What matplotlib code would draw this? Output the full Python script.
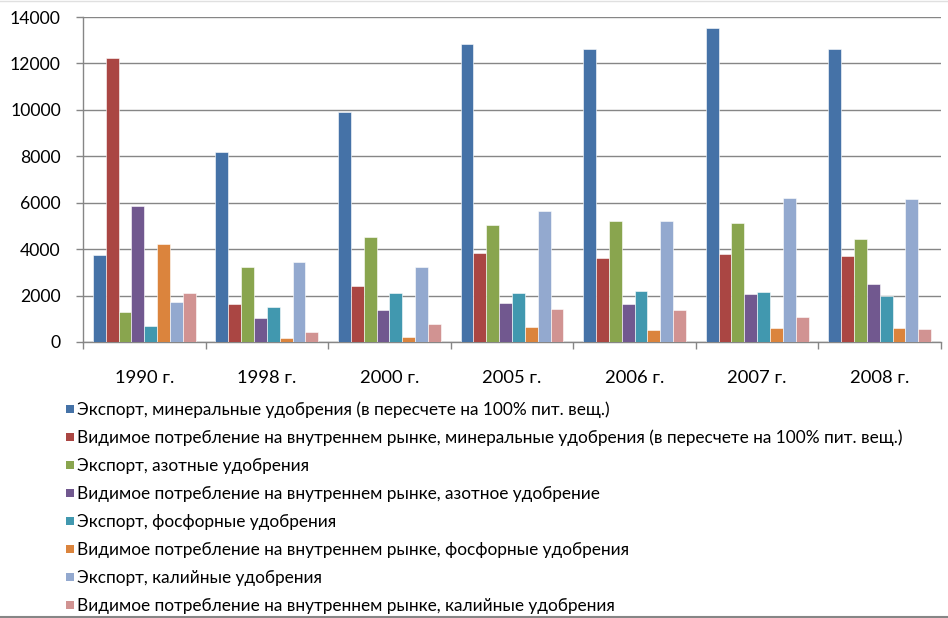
import matplotlib
matplotlib.use("Agg")
import matplotlib.pyplot as plt
import numpy as np
from matplotlib.patches import Rectangle

categories = ["1990 г.", "1998 г.", "2000 г.", "2005 г.", "2006 г.", "2007 г.", "2008 г."]
series_names = [
    "Экспорт, минеральные удобрения (в пересчете на 100% пит. вещ.)",
    "Видимое потребление на внутреннем рынке, минеральные удобрения (в пересчете на 100% пит. вещ.)",
    "Экспорт, азотные удобрения",
    "Видимое потребление на внутреннем рынке, азотное удобрение",
    "Экспорт, фосфорные удобрения",
    "Видимое потребление на внутреннем рынке, фосфорные удобрения",
    "Экспорт, калийные удобрения",
    "Видимое потребление на внутреннем рынке, калийные удобрения",
]
export_mineral = [3730, 8200, 9890, 12850, 12640, 13510, 12610]
consumption_mineral = [12220, 1650, 2400, 3830, 3600, 3790, 3700]
export_nitrogen = [1290, 3230, 4520, 5040, 5200, 5110, 4450]
consumption_nitrogen = [5860, 1020, 1380, 1680, 1640, 2050, 2480]
export_phosphate = [675, 1490, 2110, 2110, 2200, 2150, 1970]
consumption_phosphate = [4220, 170, 230, 630, 520, 600, 590]
export_potash = [1720, 3430, 3230, 5630, 5210, 6190, 6160]
consumption_potash = [2100, 420, 760, 1410, 1390, 1060, 560]
yticks = [0, 2000, 4000, 6000, 8000, 10000, 12000, 14000]

series = [export_mineral, consumption_mineral, export_nitrogen, consumption_nitrogen,
          export_phosphate, consumption_phosphate, export_potash, consumption_potash]
colors = ["#4572A7", "#AA4643", "#89A54E", "#71588F", "#4198AF", "#DB843D", "#93A9CF", "#D19392"]

W, H = 948, 618
fig = plt.figure(figsize=(W / 100, H / 100), dpi=100)
ax = fig.add_axes([83 / W, 1 - 342 / H, (941 - 83) / W, (342 - 17) / H])
renderer = fig.canvas.get_renderer()

font = ["Lato", "DejaVu Sans"]


def fit_size(text, target_px, base=12.0):
    t = fig.text(0, 0, text, fontsize=base, family=font)
    w = t.get_window_extent(renderer).width
    t.remove()
    return base * target_px / w


ytick_size = fit_size("14000", 51.0)
xtick_size = fit_size("1990 г.", 59.0)
legend_size = fit_size(series_names[1], 821.0)

n = len(series)
group = 0.84
bw = group / n
x = np.arange(len(categories))
for i, (vals, c) in enumerate(zip(series, colors)):
    ax.bar(x - group / 2 + bw * (i + 0.5), vals, width=bw, color=c,
           edgecolor="#ffffff", linewidth=0.4, zorder=3, label=series_names[i])

ax.set_xlim(-0.5, len(categories) - 0.5)
ax.set_ylim(0, 14000)
ax.set_yticks(yticks)
ax.set_yticklabels([str(v) for v in yticks], fontsize=ytick_size, family=font)
ax.set_xticks(x)
ax.set_xticklabels(categories, fontsize=xtick_size, family=font)
ax.tick_params(axis="x", length=0, pad=20)
ax.set_xticks(np.arange(len(categories) + 1) - 0.5, minor=True)
ax.tick_params(axis="x", which="minor", length=5, color="#868686", width=1)
ax.tick_params(axis="y", length=5, color="#868686", width=1, pad=11)

ax.yaxis.grid(True, color="#868686", linewidth=1, zorder=0)
for s in ["top", "right"]:
    ax.spines[s].set_visible(False)
for s in ["left", "bottom"]:
    ax.spines[s].set_color("#868686")
    ax.spines[s].set_linewidth(1)

# legend (vertical list)
y0 = 409
for i, (name, c) in enumerate(zip(series_names, colors)):
    yc = y0 + 28 * i
    fig.patches.append(Rectangle((66 / W, 1 - (yc + 4) / H), 8 / W, 8 / H,
                                 transform=fig.transFigure, facecolor=c, edgecolor="none"))
    fig.text(77 / W, 1 - (yc + 1) / H, name, fontsize=legend_size, family=font,
             va="center", ha="left", color="#000000")

# chart frame lines
fig.add_artist(plt.Line2D([0, 1], [1 - 1 / H, 1 - 1 / H], transform=fig.transFigure,
                          color="#e0e0e0", linewidth=1))
fig.add_artist(plt.Line2D([0, 1], [1 - 616.5 / H, 1 - 616.5 / H], transform=fig.transFigure,
                          color="#868686", linewidth=1.5))

fig.savefig("out.png", dpi=100)
